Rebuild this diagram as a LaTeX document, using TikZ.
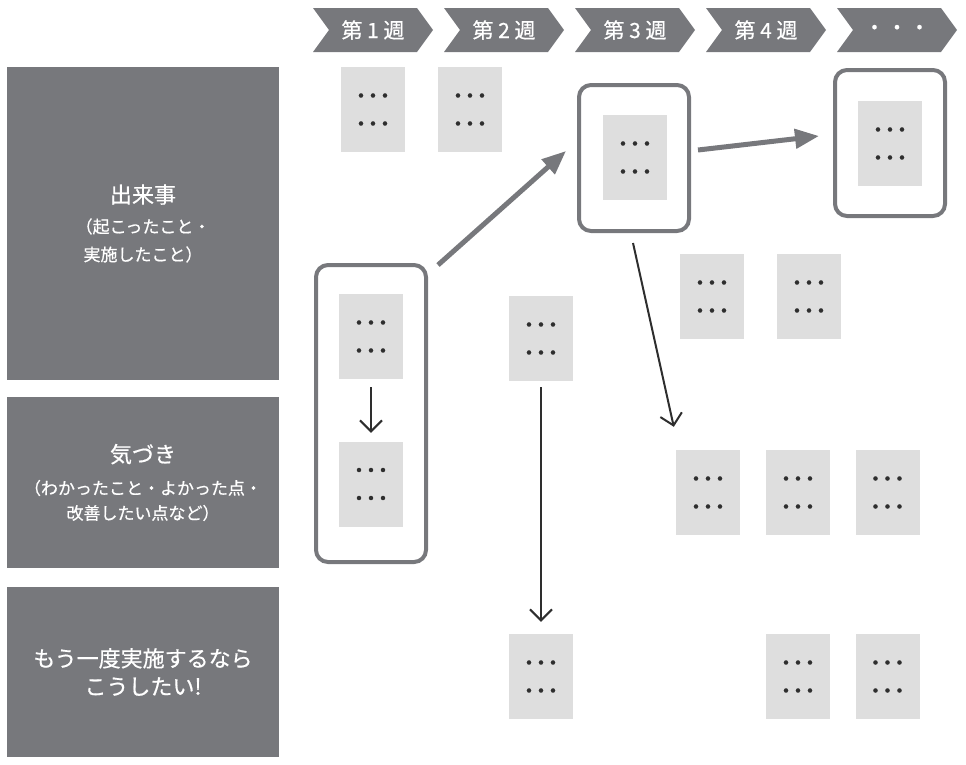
\documentclass[tikz,border=0pt]{standalone}
\usepackage{fontspec}
\setmainfont{Noto Sans CJK JP}[FakeBold=0.6]
\usetikzlibrary{arrows.meta,calc}
\definecolor{dark}{HTML}{77787C}
\definecolor{cardfill}{HTML}{DEDEDE}
\definecolor{ink}{HTML}{2E2E2E}
\newcommand\cdd{・\kern-8pt・\kern-8pt・}
\newcommand\cdl{\rule[-6.4pt]{0pt}{28pt}\cdd}
\newcommand\hdd{・\kern1.5pt・\kern1.5pt・}
\newcommand\tit{\fontsize{22}{28}\selectfont}
\newcommand\chev[3]{%
  \fill[dark] (#1,8) -- ++(104,0) -- ++(16,22) -- ++(-16,22) -- ++(-104,0) -- ++(16,-22) -- cycle;
  \node[chevtext] (#2) at (#1+60,30) {#3};}
\begin{document}
\begin{tikzpicture}[x=1pt,y=-1pt,
  chevtext/.style={text=white, inner sep=0pt, font=\fontsize{21}{24}\selectfont},
  catbox/.style={fill=dark, minimum width=272pt, inner sep=0pt, text=white, align=center,
    font=\fontsize{17}{28}\selectfont},
  cardbox/.style={fill=cardfill, minimum width=64pt, minimum height=85pt, inner sep=0pt,
    align=center, text=ink, font=\fontsize{20}{28}\selectfont},
  frame/.style={draw=dark, line width=4pt, rounded corners=12pt, minimum width=110pt, inner sep=0pt},
  garrow/.style={draw=dark, line width=5pt, -{Triangle[length=24pt,width=19pt]}},
  tarrow/.style={draw=ink, line width=2pt, -{Straight Barb[length=11pt,width=22pt]}}
]
\useasboundingbox (0,0) rectangle (966,764);
% week header
\chev{313}{w1}{第 1 週}
\chev{444}{w2}{第 2 週}
\chev{575}{w3}{第 3 週}
\chev{706}{w4}{第 4 週}
\chev{837}{w5}{\hdd}
% category boxes
\node[catbox, minimum height=313pt] (cat1) at (143,223.5)
  {{\tit 出来事}\\[2pt]（起こったこと・\\実施したこと）};
\node[catbox, minimum height=171pt] (cat2) at (143,482.5)
  {{\tit 気づき}\\[4pt]（わかったこと・よかった点・\\[-3pt]改善したい点など）};
\node[catbox, minimum height=170pt, font=\tit] (cat3) at (143,672)
  {もう一度実施するなら\\こうしたい!};
% frames
\node[frame, minimum height=297pt] (f1) at (371,413.5) {};
\node[frame, minimum height=146pt] (f3) at (634,158) {};
\node[frame, minimum height=146pt] (f5) at (890,143) {};
% cards
\node[cardbox] (a1) at (373,109.5) {\cdl\\\cdl};
\node[cardbox] (a2) at (470,109.5) {\cdl\\\cdl};
\node[cardbox] (f3c) at (635,157.5) {\cdl\\\cdl};
\node[cardbox] (f5c) at (890,143.5) {\cdl\\\cdl};
\node[cardbox] (b1) at (712,296.5) {\cdl\\\cdl};
\node[cardbox] (b2) at (809,296.5) {\cdl\\\cdl};
\node[cardbox] (f1a) at (371,336.5) {\cdl\\\cdl};
\node[cardbox] (f1b) at (371,484) {\cdl\\\cdl};
\node[cardbox] (w2a) at (541,338.5) {\cdl\\\cdl};
\node[cardbox] (c1) at (708,492.5) {\cdl\\\cdl};
\node[cardbox] (c2) at (798,492.5) {\cdl\\\cdl};
\node[cardbox] (c3) at (887.5,492.5) {\cdl\\\cdl};
\node[cardbox] (d1) at (541,676.5) {\cdl\\\cdl};
\node[cardbox] (d2) at (798,676.5) {\cdl\\\cdl};
\node[cardbox] (d3) at (887.5,676.5) {\cdl\\\cdl};
% connectors
\draw[garrow] ($(f1.north east)+(10,2)$) -- ($(f3.west)+(-11,-7)$);
\draw[garrow] ($(f3.east)+(7,-8)$) -- ($(f5.west)+(-14,-7)$);
\draw[tarrow, shorten <=8pt, shorten >=8.5pt] (f1a.south) -- (f1b.north);
\draw[tarrow, shorten <=6pt, shorten >=12pt] (w2a.south) -- (d1.north);
\draw[tarrow] ($(f3.south)+(-1,10)$) -- ($(c1.north west)+(-2,-23)$);
\end{tikzpicture}
\end{document}
